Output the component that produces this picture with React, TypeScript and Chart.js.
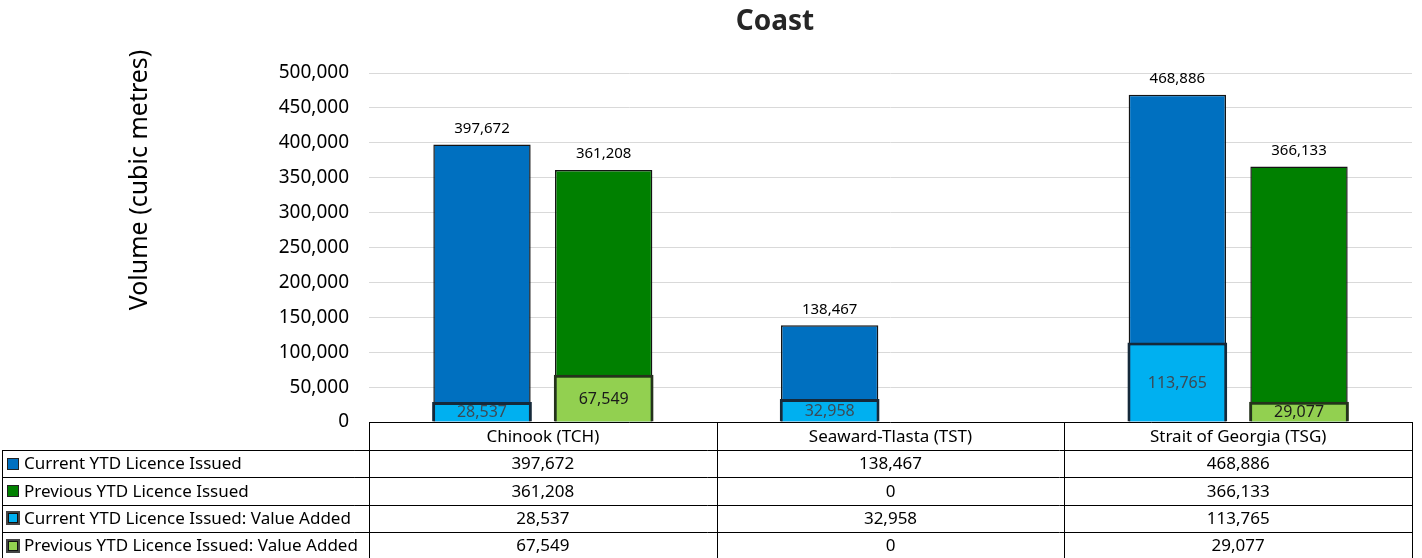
import React, { useEffect, useRef } from "react";
import { Chart, registerables } from "chart.js";

Chart.register(...registerables);

const categories = ["Chinook (TCH)", "Seaward-Tlasta (TST)", "Strait of Georgia (TSG)"];
const currentYTD = [397672, 138467, 468886];
const previousYTD = [361208, 0, 366133];
const currentValueAdded = [28537, 32958, 113765];
const previousValueAdded = [67549, 0, 29077];
const seriesNames = [
  "Current YTD Licence Issued",
  "Previous YTD Licence Issued",
  "Current YTD Licence Issued: Value Added",
  "Previous YTD Licence Issued: Value Added",
];
const yTicks = [0, 50000, 100000, 150000, 200000, 250000, 300000, 350000, 400000, 450000, 500000];

const FONT = "'Noto Sans', 'Open Sans', sans-serif";
const COLORS = {
  cur: "#0070C0",
  prev: "#008000",
  curVA: "#00B0F0",
  prevVA: "#92D050",
};
const fmt = (v: number) => v.toLocaleString("en-US");

const tablePlugin = {
  id: "tableAndText",
  afterDraw(chart: any) {
    const ctx: CanvasRenderingContext2D = chart.ctx;
    const xs = chart.scales.x;
    const ca = chart.chartArea;
    const n = categories.length;
    const colW = (ca.right - ca.left) / n;
    const top = ca.bottom;
    const headerH = 28;
    const rowH = 27.3;
    ctx.save();

    // Title
    ctx.fillStyle = "#262626";
    ctx.font = `bold 28px ${FONT}`;
    ctx.textAlign = "center";
    ctx.textBaseline = "middle";
    ctx.fillText("Coast", 775, 22);

    // Y axis title
    ctx.save();
    ctx.translate(140, 180);
    ctx.rotate(-Math.PI / 2);
    ctx.font = `25px ${FONT}`;
    ctx.fillStyle = "#000";
    ctx.fillText("Volume (cubic metres)", 0, 0);
    ctx.restore();

    // Data labels
    const metas = chart.getSortedVisibleDatasetMetas();
    metas.forEach((meta: any) => {
      const di = meta.index;
      const ds = chart.data.datasets[di];
      meta.data.forEach((bar: any, i: number) => {
        const v = ds.data[i];
        if (!v) return;
        ctx.textAlign = "center";
        if (di < 2) {
          ctx.font = `15px ${FONT}`;
          ctx.fillStyle = "#000";
          ctx.fillText(fmt(v), bar.x, bar.y - 16);
        } else {
          ctx.font = `16px ${FONT}`;
          ctx.fillStyle = di === 2 ? "#3b4a55" : "#1a1a1a";
          ctx.fillText(fmt(v), bar.x, (bar.y + bar.base) / 2 + 1);
        }
      });
    });

    // Table
    ctx.strokeStyle = "#000";
    ctx.lineWidth = 1;
    const leftX = 2.5;
    const rows = [currentYTD, previousYTD, currentValueAdded, previousValueAdded];
    const bottom = top + headerH + rowH * rows.length;
    ctx.beginPath();
    ctx.moveTo(ca.left, top + 0.5);
    ctx.lineTo(ca.right, top + 0.5);
    for (let r = 0; r <= rows.length; r++) {
      const y = Math.round(top + headerH + rowH * r) + 0.5;
      ctx.moveTo(leftX, y);
      ctx.lineTo(ca.right, y);
    }
    for (let c = 0; c <= n; c++) {
      const x = Math.round(ca.left + colW * c) + 0.5;
      ctx.moveTo(x, top);
      ctx.lineTo(x, bottom);
    }
    ctx.moveTo(leftX, top + headerH);
    ctx.lineTo(leftX, bottom);
    ctx.stroke();

    ctx.font = `17px ${FONT}`;
    ctx.fillStyle = "#000";
    ctx.textAlign = "center";
    categories.forEach((c, i) => {
      const x = xs.getPixelForValue(i);
      ctx.fillText(c, x, top + headerH / 2 + 1);
    });
    rows.forEach((row, r) => {
      const yc = top + headerH + rowH * r + rowH / 2 + 1;
      row.forEach((v, i) => {
        const x = xs.getPixelForValue(i);
        ctx.fillText(fmt(v), x, yc);
      });
    });
    const keyColors = [COLORS.cur, COLORS.prev, COLORS.curVA, COLORS.prevVA];
    seriesNames.forEach((name, r) => {
      const yc = top + headerH + rowH * r + rowH / 2;
      const kx = 7, ky = Math.round(yc - 6);
      if (r < 2) {
        ctx.fillStyle = keyColors[r];
        ctx.fillRect(kx, ky, 12, 12);
        ctx.strokeStyle = "#222";
        ctx.strokeRect(kx + 0.5, ky + 0.5, 11, 11);
      } else {
        ctx.fillStyle = "#444";
        ctx.fillRect(kx - 1, ky - 1, 14, 14);
        ctx.fillStyle = keyColors[r];
        ctx.fillRect(kx + 1, ky + 1, 10, 10);
        ctx.strokeStyle = "#111";
        ctx.strokeRect(kx + 1.5, ky + 1.5, 9, 9);
      }
      ctx.fillStyle = "#000";
      ctx.textAlign = "left";
      ctx.font = `17px ${FONT}`;
      ctx.fillText(name, 24, yc + 1);
    });
    ctx.restore();
  },
};

export default function App() {
  const ref = useRef<HTMLCanvasElement>(null);
  useEffect(() => {
    document.body.style.margin = "0";
    const chart = new Chart(ref.current!, {
      type: "bar",
      data: {
        labels: categories,
        datasets: [
          {
            label: seriesNames[0],
            data: currentYTD,
            backgroundColor: COLORS.cur,
            borderColor: "#141414",
            borderWidth: 1.5,
            stack: "cur",
            order: 2,
            barPercentage: 0.8,
          },
          {
            label: seriesNames[1],
            data: previousYTD,
            backgroundColor: COLORS.prev,
            borderColor: "#141414",
            borderWidth: 1.5,
            stack: "prev",
            order: 2,
            barPercentage: 0.8,
          },
          {
            label: seriesNames[2],
            data: currentValueAdded,
            backgroundColor: COLORS.curVA,
            borderColor: "#15293a",
            borderWidth: 3,
            stack: "cur",
            order: 1,
            barPercentage: 0.82,
          },
          {
            label: seriesNames[3],
            data: previousValueAdded,
            backgroundColor: COLORS.prevVA,
            borderColor: "#25321c",
            borderWidth: 3,
            stack: "prev",
            order: 1,
            barPercentage: 0.82,
          },
        ],
      },
      options: {
        animation: false,
        responsive: false,
        maintainAspectRatio: false,
        devicePixelRatio: 1,
        layout: { padding: { top: 73, right: 10, bottom: 136, left: 0 } },
        plugins: {
          legend: { display: false },
          title: { display: false },
          tooltip: { enabled: false },
        },
        datasets: {
          bar: { categoryPercentage: 0.7 },
        },
        scales: {
          x: {
            type: "category",
            display: false,
            offset: true,
          },
          y: {
            min: 0,
            max: 500000,
            stacked: false,
            afterFit: (s: any) => {
              s.width = 369;
            },
            afterBuildTicks: (s: any) => {
              s.ticks = yTicks.map((v) => ({ value: v }));
            },
            border: { display: false },
            grid: { color: "#d9d9d9", drawTicks: false, lineWidth: 1 },
            ticks: {
              padding: 20,
              color: "#000",
              font: { family: FONT, size: 19 },
              callback: (v: any) => fmt(Number(v)),
            },
          },
        },
      },
      plugins: [tablePlugin],
    } as any);
    return () => chart.destroy();
  }, []);
  return (
    <div style={{ position: "fixed", left: 0, top: 0, width: 1422, height: 558, background: "#fff" }}>
      <canvas ref={ref} width={1422} height={558} style={{ width: 1422, height: 558, display: "block" }} />
    </div>
  );
}
